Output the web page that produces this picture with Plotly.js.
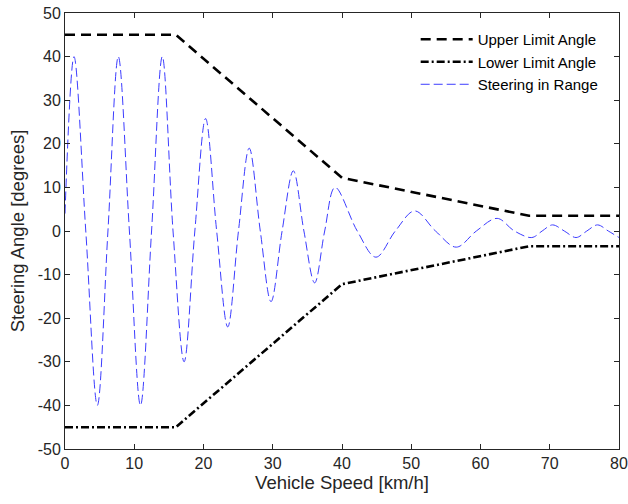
<!DOCTYPE html>
<html>
<head>
<meta charset="utf-8">
<script src="https://cdn.plot.ly/plotly-3.0.1.min.js"></script>
<style>html,body{margin:0;padding:0;background:#fff;}#chart{width:628px;height:504px;}</style>
</head>
<body>
<div id="chart"></div>
<script>
// Limit angle breakpoints (km/h, degrees)
const limitSpeed = [0, 16, 40, 67, 80];
const upperLimit = [45, 45, 12.2, 3.5, 3.5];
const lowerLimit = [-45, -45, -12.2, -3.5, -3.5];

// Steering trace: start, peaks, troughs and zero crossings
const steerSpeed = [0, 1.3, 3.0, 4.67, 6.2, 7.7, 9.3, 10.9, 12.5, 14.05, 15.6, 17.2, 18.75, 20.3, 21.9, 23.5, 25.05, 26.6, 28.2, 29.75, 31.35, 32.97, 34.5, 36.05, 37.5, 39.0, 42.2, 44.9, 47.7, 50.5, 53.5, 56.5, 59.4, 62.4, 64.9, 67.4, 68.9, 70.4, 72.1, 73.8, 75.35, 76.9, 78.45, 80];
const steerAngle = [4, 40, 0, -40, 0, 40, 0, -40, 0, 40, 0, -30, 0, 25.8, 0, -22, 0, 19, 0, -16.2, 0, 13.8, 0, -11.9, 0, 10, 0, -6, 0, 4.6, 0, -3.7, 0, 2.9, 0, -1.5, 0, 1.4, 0, -1.5, 0, 1.4, 0, -1.5];

const xTicks = [0, 10, 20, 30, 40, 50, 60, 70, 80];
const xTickLabels = ['0', '10', '20', '30', '40', '50', '60', '70', '80'];
const yTicks = [-50, -40, -30, -20, -10, 0, 10, 20, 30, 40, 50];
const yTickLabels = ['-50', '-40', '-30', '-20', '-10', '0', '10', '20', '30', '40', '50'];

const traces = [
  {x: limitSpeed, y: upperLimit, name: 'Upper Limit Angle', mode: 'lines',
   line: {color: '#000000', width: 2.6, dash: '10px,6px'}},
  {x: limitSpeed, y: lowerLimit, name: 'Lower Limit Angle', mode: 'lines',
   line: {color: '#000000', width: 2.6, dash: '8px,3px,2px,3px'}},
  {x: steerSpeed, y: steerAngle, name: 'Steering in Range', mode: 'lines',
   line: {color: '#3c3cff', width: 1, dash: '9px,4px', shape: 'spline', smoothing: 1}}
];

const fam = 'Liberation Sans, Arial, sans-serif';
const axisFont = {family: fam, size: 16, color: '#262626'};
const titleFont = {family: fam, size: 18.5, color: '#262626'};
const layout = {
  width: 628, height: 504,
  margin: {l: 65, r: 9, t: 13, b: 55},
  paper_bgcolor: '#ffffff', plot_bgcolor: '#ffffff',
  showlegend: true,
  legend: {x: 0.633, y: 0.977, xanchor: 'left', yanchor: 'top', bgcolor: 'rgba(255,255,255,0)',
           borderwidth: 0, itemwidth: 52, tracegroupgap: 0,
           font: {family: fam, size: 15, color: '#000'}},
  xaxis: {range: [0, 80], tickvals: xTicks, ticktext: xTickLabels, ticks: 'inside', ticklen: 5, tickcolor: '#262626',
          showgrid: false, zeroline: false, showline: true, linecolor: '#262626', linewidth: 1, mirror: 'ticks',
          tickfont: axisFont,
          title: {text: 'Vehicle Speed [km/h]', font: titleFont, standoff: 4}},
  yaxis: {range: [-50, 50], tickvals: yTicks, ticktext: yTickLabels, ticks: 'inside', ticklen: 5, tickcolor: '#262626',
          showgrid: false, zeroline: false, showline: true, linecolor: '#262626', linewidth: 1, mirror: 'ticks',
          tickfont: axisFont,
          title: {text: 'Steering Angle [degrees]', font: titleFont, standoff: 8}}
};

Plotly.newPlot('chart', traces, layout, {displayModeBar: false, staticPlot: true});
</script>
</body>
</html>
